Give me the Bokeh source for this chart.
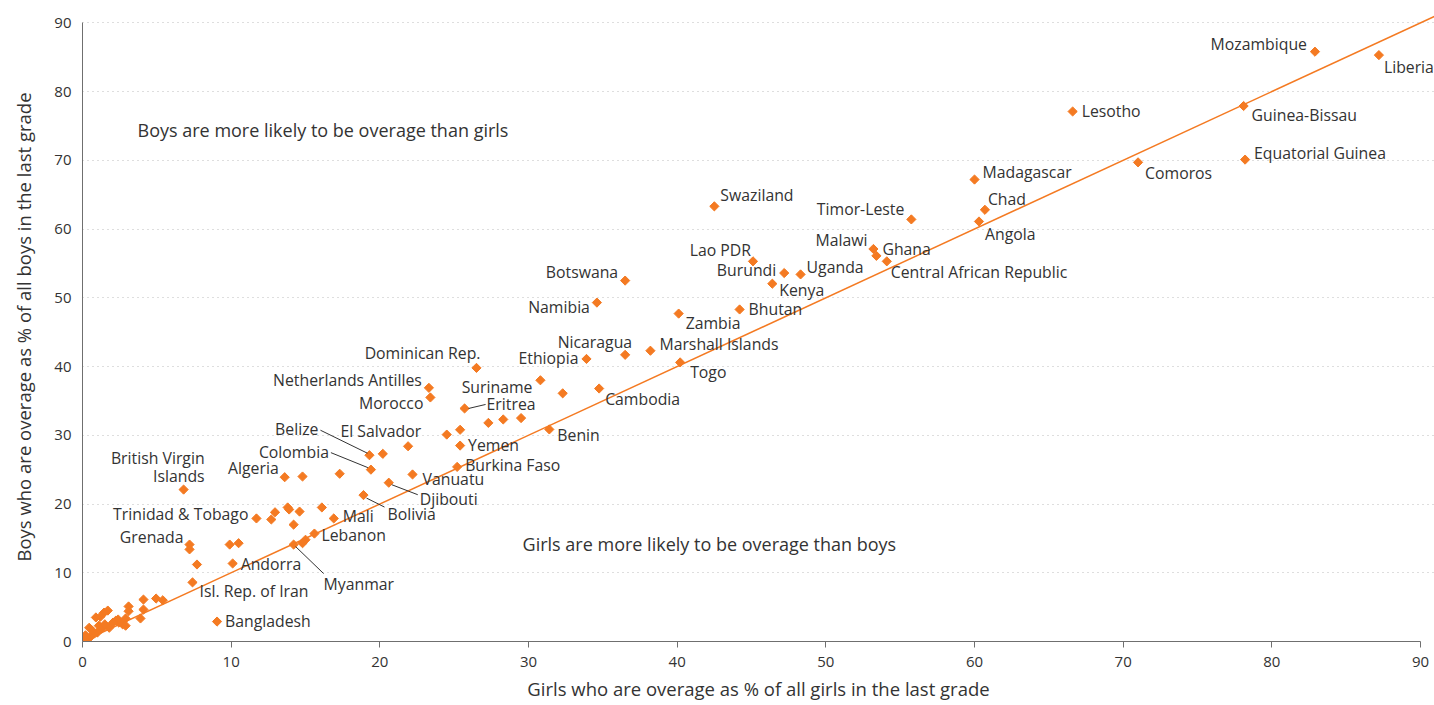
import numpy as np
from bokeh.plotting import figure
from bokeh.models import ColumnDataSource, Label, FixedTicker
from bokeh.core.properties import value
from bokeh.embed import file_html
from bokeh.resources import INLINE

# ---------------- data ----------------
countries = [
    "Mozambique", "Liberia", "Lesotho", "Guinea-Bissau", "Comoros", "Equatorial Guinea",
    "Madagascar", "Chad", "Angola", "Swaziland", "Timor-Leste", "Malawi", "Ghana",
    "Central African Republic", "Lao PDR", "Burundi", "Uganda", "Kenya", "Bhutan",
    "Botswana", "Namibia", "Zambia", "Marshall Islands", "Nicaragua", "Ethiopia", "Togo",
    "Cambodia", "", "Suriname", "Benin", "Dominican Rep.", "Netherlands Antilles", "Morocco",
    "Eritrea", "", "", "", "", "", "Yemen", "Burkina Faso", "El Salvador", "Belize", "",
    "Colombia", "Vanuatu", "Djibouti", "Bolivia", "", "Algeria", "",
    "British Virgin\nIslands", "Trinidad & Tobago", "", "", "", "", "", "", "",
    "Mali", "Lebanon", "", "", "Myanmar", "", "", "Grenada", "", "", "Andorra",
    "Isl. Rep. of Iran", "Bangladesh",
    "", "", "", "", "", "", "", "", "", "", "", "", "", "", "", "", "", "", "", "", "",
    "", "", "", "", "", "", "",
]
girls = [
    82.9, 87.2, 66.6, 78.1, 71.0, 78.2,
    60.0, 60.7, 60.3, 42.5, 55.75, 53.2, 53.4,
    54.1, 45.1, 47.2, 48.3, 46.4, 44.2,
    36.5, 34.6, 40.1, 38.2, 36.5, 33.9, 40.2,
    34.75, 32.3, 30.8, 31.4, 26.5, 23.3, 23.4,
    25.7, 27.3, 28.3, 29.5, 24.5, 25.4, 25.4, 25.2, 21.9, 19.3, 20.2,
    19.4, 22.2, 20.6, 18.9, 17.3, 13.6, 14.8,
    6.8, 11.7, 12.7, 12.95, 13.8, 13.9, 14.6, 16.1, 14.2,
    16.9, 15.6, 15.0, 14.8, 14.2, 9.9, 10.5, 7.2, 7.2, 7.7, 10.1,
    7.4, 9.05,
    5.4, 4.95, 4.1, 4.1, 3.9, 3.1, 3.1, 2.9, 2.7, 2.45, 2.25, 2.05, 2.9, 1.7, 1.45, 1.2, 0.9,
    1.8, 1.1, 1.3, 0.45, 1.0, 0.8, 0.5, 0.3, 0.1, 0.65, 1.5, 0.2, 2.4,
]
boys = [
    85.8, 85.3, 77.1, 77.9, 69.7, 70.1,
    67.2, 62.8, 61.1, 63.3, 61.4, 57.1, 56.1,
    55.3, 55.3, 53.6, 53.4, 52.05, 48.3,
    52.5, 49.3, 47.7, 42.3, 41.7, 41.1, 40.6,
    36.8, 36.1, 38.0, 30.85, 39.8, 36.9, 35.5,
    33.9, 31.8, 32.3, 32.5, 30.1, 30.8, 28.5, 25.4, 28.4, 27.1, 27.3,
    25.0, 24.3, 23.1, 21.3, 24.4, 23.9, 24.0,
    22.1, 17.9, 17.75, 18.8, 19.5, 19.2, 18.9, 19.5, 17.0,
    17.9, 15.7, 14.8, 14.3, 14.1, 14.1, 14.3, 14.1, 13.4, 11.2, 11.35,
    8.6, 2.9,
    6.0, 6.25, 6.1, 4.65, 3.35, 5.1, 4.4, 3.35, 2.5, 2.75, 3.05, 2.75, 2.3, 4.5, 4.2, 3.6, 3.5,
    2.0, 2.3, 1.9, 2.0, 1.3, 1.15, 0.6, 0.6, 0.3, 1.6, 2.5, 0.9, 3.2,
]
equality_line = [0, 92]
x_ticks = [0, 10, 20, 30, 40, 50, 60, 70, 80, 90]
y_ticks = [0, 10, 20, 30, 40, 50, 60, 70, 80, 90]

x_title = "Girls who are overage as % of all girls in the last grade"
y_title = "Boys who are overage as % of all boys in the last grade"
note_top = "Boys are more likely to be overage than girls"
note_bottom = "Girls are more likely to be overage than boys"

# ---------------- layout / style ----------------
FONT = "Open Sans"
ORANGE = "#F47A22"
TXT = "#333333"
W, H = 1434, 705
LEFT, RIGHT, TOP, BOTTOM = 82, 0, 12, 64
X_END, Y_END = 90.94, 91.5

# label placement: align, dx(px), dy(px, + is down)
label_pos = {
    "Mozambique": ("right", -8, -8), "Liberia": ("left", 5, 12), "Lesotho": ("left", 9, 0),
    "Guinea-Bissau": ("left", 8, 9), "Comoros": ("left", 7, 11),
    "Equatorial Guinea": ("left", 9, -7), "Madagascar": ("left", 8, -8),
    "Chad": ("left", 3, -11), "Angola": ("left", 6, 13), "Swaziland": ("left", 6, -11),
    "Timor-Leste": ("right", -7, -10), "Malawi": ("right", -6, -9), "Ghana": ("left", 6, -7),
    "Central African Republic": ("left", 4, 11), "Lao PDR": ("right", -2, -11),
    "Burundi": ("right", -8, -3), "Uganda": ("left", 6, -7), "Kenya": ("left", 7, 6),
    "Bhutan": ("left", 9, 0), "Botswana": ("right", -7, -9), "Namibia": ("right", -7, 4),
    "Zambia": ("left", 7, 9), "Marshall Islands": ("left", 9, -7),
    "Nicaragua": ("right", 7, -13), "Ethiopia": ("right", -8, -1), "Togo": ("left", 10, 10),
    "Cambodia": ("left", 6, 10), "Suriname": ("right", -8, 7), "Benin": ("left", 8, 6),
    "Dominican Rep.": ("right", 4, -15), "Netherlands Antilles": ("right", -7, -8),
    "Morocco": ("right", -7, 6), "Eritrea": ("left", 22, -4), "Yemen": ("left", 8, -1),
    "Burkina Faso": ("left", 8, -2), "El Salvador": ("right", 13, -15),
    "Belize": ("right", -51, -26), "Colombia": ("right", -42, -18),
    "Vanuatu": ("left", 10, 5), "Djibouti": ("left", 31, 16), "Bolivia": ("left", 24, 19),
    "Algeria": ("right", -6, -9), "British Virgin\nIslands": ("right", 21, -32),
    "Trinidad & Tobago": ("right", -8, -4), "Grenada": ("right", -6, -8),
    "Andorra": ("left", 8, 1), "Mali": ("left", 9, -2), "Lebanon": ("left", 7, 1),
    "Myanmar": ("left", 30, 39), "Isl. Rep. of Iran": ("left", 7, 9),
    "Bangladesh": ("left", 8, -1),
}
# leader lines: start dx, dy, end dx, dy (px relative to the point)
leaders = {
    "Belize": (-2, -2, -49, -25), "Colombia": (-3, -2, -40, -17),
    "Eritrea": (4, 0, 21, -4), "Djibouti": (3, 2, 29, 12),
    "Bolivia": (3, 3, 21, 12), "Myanmar": (2, 2, 30, 29),
}
LINE_H = 18

p = figure(width=W, height=H, output_backend="svg", toolbar_location=None,
           x_range=(0, X_END), y_range=(0, Y_END),
           min_border_left=LEFT, min_border_right=RIGHT,
           min_border_top=TOP, min_border_bottom=BOTTOM)
p.outline_line_color = None
p.background_fill_color = "white"
p.border_fill_color = "white"

frame_w = W - LEFT - RIGHT
frame_h = H - TOP - BOTTOM
SX = frame_w / X_END
SY = frame_h / Y_END

# axes
for ax in (p.xaxis[0], p.yaxis[0]):
    ax.axis_line_color = "#6f6f6f"
    ax.axis_line_width = 1
    ax.major_label_text_font = FONT
    ax.major_label_text_font_size = "15px"
    ax.major_label_text_color = TXT
    ax.axis_label_text_font = FONT
    ax.axis_label_text_font_size = "18.5px"
    ax.axis_label_text_font_style = "normal"
    ax.axis_label_text_color = TXT
    ax.minor_tick_line_color = None
    ax.major_tick_line_color = "#6f6f6f"

p.xaxis.ticker = FixedTicker(ticks=x_ticks)
p.yaxis.ticker = FixedTicker(ticks=y_ticks)
p.xaxis.bounds = (0, 90)
p.yaxis.bounds = (0, 90)
p.xaxis.axis_label = x_title
p.yaxis.axis_label = y_title
p.xaxis.major_tick_out = 6
p.xaxis.major_tick_in = 0
p.xaxis.major_label_standoff = 9
p.xaxis.axis_label_standoff = 6
p.yaxis.major_tick_out = 0
p.yaxis.major_tick_in = 0
p.yaxis.major_label_standoff = 11
p.yaxis.axis_label_standoff = 15

p.xgrid.grid_line_color = None
p.ygrid.grid_line_color = "#bdbdbd"
p.ygrid.grid_line_dash = "1 4"
p.ygrid.grid_line_width = 1
p.ygrid.bounds = (0, 90)

# equality line
p.line(equality_line, equality_line, line_color=ORANGE, line_width=1.5)

# points
src = ColumnDataSource(dict(x=girls, y=boys))
p.scatter("x", "y", source=src, marker="square", size=6.5, angle=np.pi / 4,
          fill_color=ORANGE, line_color=ORANGE)

# labels
lx, ly, lt, la, ldx, ldy = [], [], [], [], [], []
sx0, sy0, sx1, sy1 = [], [], [], []
for name, gx, by in zip(countries, girls, boys):
    if not name:
        continue
    align, dx, dy = label_pos[name]
    for i, line in enumerate(name.split("\n")):
        lx.append(gx); ly.append(by); lt.append(line); la.append(align)
        ldx.append(dx); ldy.append(dy + i * LINE_H)
    if name in leaders:
        a, b, c, d = leaders[name]
        sx0.append(gx + a / SX); sy0.append(by - b / SY)
        sx1.append(gx + c / SX); sy1.append(by - d / SY)

lsrc = ColumnDataSource(dict(x=lx, y=ly, text=lt, align=la, dx=ldx, dy=ldy))
p.text("x", "y", text="text", source=lsrc, x_offset="dx", y_offset="dy",
       text_align="align", text_baseline="middle",
       text_font=value(FONT), text_font_size="15.8px", text_color=TXT)
p.segment(sx0, sy0, sx1, sy1, line_color="#333333", line_width=1)

p.add_layout(Label(x=3.7, y=74.4, text=note_top, text_baseline="middle",
                   text_font=FONT, text_font_size="18px", text_color=TXT))
p.add_layout(Label(x=29.6, y=14.2, text=note_bottom, text_baseline="middle",
                   text_font=FONT, text_font_size="18px", text_color=TXT))

open("out.html", "w").write(file_html(p, INLINE))
